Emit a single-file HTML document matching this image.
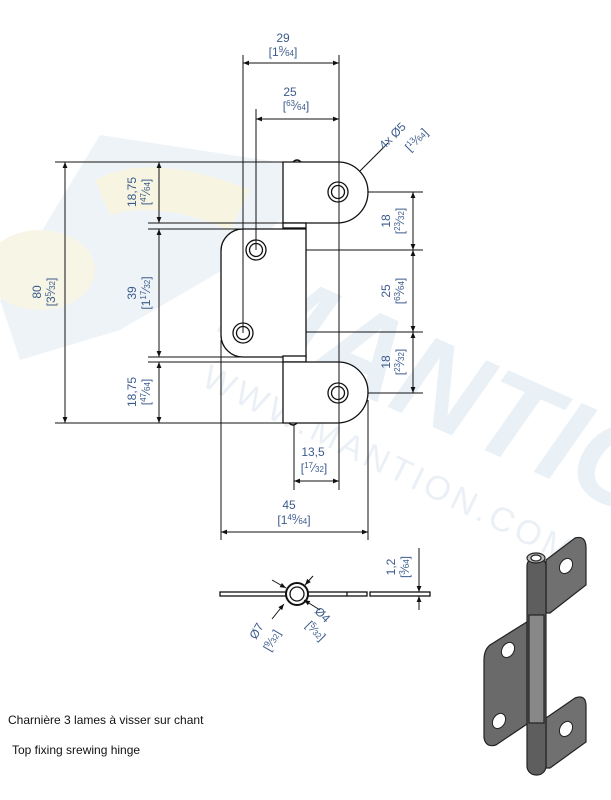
<!DOCTYPE html>
<html><head><meta charset="utf-8"><style>
html,body{margin:0;padding:0;background:#fff}
svg{display:block}
.d{fill:#3b5b8c;font-family:"Liberation Sans",sans-serif;font-size:12px}
.s{font-size:8px}
.l{stroke:#111;stroke-width:1;fill:none}
.o{stroke:#111;stroke-width:1.3;fill:none}
</style></head><body>
<svg width="611" height="800" viewBox="0 0 611 800" xmlns="http://www.w3.org/2000/svg">
<defs>
<marker id="a" viewBox="0 0 10 10" refX="10" refY="5" markerWidth="8" markerHeight="6" orient="auto-start-reverse" markerUnits="userSpaceOnUse"><path d="M0,1 L10,5 L0,9z" fill="#111"/></marker>
</defs>
<!-- watermark -->
<polygon points="0,300 100,135 330,170 240,260 120,330 20,360" fill="#eef3f8"/>
<path d="M95,180 Q150,150 250,190 L230,230 Q160,200 110,215z" fill="#f7f5e2"/>
<ellipse cx="40" cy="270" rx="55" ry="40" fill="#f6f5e6"/>
<text x="0" y="0" transform="translate(215,330) rotate(24)" font-family="Liberation Sans,sans-serif" font-weight="bold" font-style="italic" font-size="120" fill="#e9f0f6">MANTION</text>
<text x="0" y="0" transform="translate(200,385) rotate(26)" font-family="Liberation Sans,sans-serif" font-size="34" fill="#eaf0f5" letter-spacing="4">WWW.MANTION.COM</text>

<!-- extension lines -->
<g class="l">
<line x1="243" y1="55" x2="243" y2="333"/>
<line x1="339" y1="55" x2="339" y2="490"/>
<line x1="256" y1="109" x2="256" y2="250"/>
<line x1="55" y1="162" x2="283" y2="162"/>
<line x1="148" y1="223" x2="283" y2="223"/>
<line x1="148" y1="229" x2="240" y2="229"/>
<line x1="148" y1="357" x2="240" y2="357"/>
<line x1="148" y1="362" x2="283" y2="362"/>
<line x1="55" y1="423" x2="283" y2="423"/>
<line x1="345" y1="192" x2="423" y2="192"/>
<line x1="262" y1="250" x2="423" y2="250"/>
<line x1="249" y1="332" x2="423" y2="332"/>
<line x1="345" y1="393" x2="423" y2="393"/>
<line x1="221" y1="340" x2="221" y2="540"/>
<line x1="368" y1="400" x2="368" y2="540"/>
<line x1="294" y1="425" x2="294" y2="490"/>
</g>
<!-- dim lines -->
<g class="l" marker-start="url(#a)" marker-end="url(#a)">
<line x1="243" y1="63" x2="339" y2="63"/>
<line x1="256" y1="119" x2="339" y2="119"/>
<line x1="65" y1="162" x2="65" y2="423"/>
<line x1="159" y1="162" x2="159" y2="223"/>
<line x1="159" y1="229" x2="159" y2="357"/>
<line x1="159" y1="362" x2="159" y2="423"/>
<line x1="413" y1="192" x2="413" y2="250"/>
<line x1="413" y1="250" x2="413" y2="332"/>
<line x1="413" y1="332" x2="413" y2="393"/>
<line x1="294" y1="481" x2="339" y2="481"/>
<line x1="221" y1="532" x2="368" y2="532"/>
</g>
<line class="l" x1="388" y1="143" x2="346" y2="185" marker-end="url(#a)"/>
<line class="l" x1="320" y1="208" x2="331" y2="198" marker-end="url(#a)"/>

<!-- hinge front view -->
<g class="o" fill="#fff">
<path d="M283,162 H338 A30,30 0 0 1 368,192 A31,31 0 0 1 338,223 H283 Z" fill="#fff"/>
<path d="M293,162 q4,-4 8,0" />
<rect x="283" y="223" width="23" height="5" fill="#fff"/>
<path d="M306,229 H243 A22,22 0 0 0 221,251 V335 A22,22 0 0 0 243,357 H306 Z" fill="#fff"/>
<rect x="283" y="356" width="23" height="6" fill="#fff"/>
<path d="M283,362 H338 A30,30 0 0 1 368,392 A31,31 0 0 1 338,423 H283 Z" fill="#fff"/>
<path d="M289,423 q4,4 8,0"/>
</g>
<g class="o">
<circle cx="338" cy="192" r="10"/><circle cx="338" cy="192" r="6.5"/>
<circle cx="256" cy="250" r="10"/><circle cx="256" cy="250" r="6.5"/>
<circle cx="243" cy="333" r="10"/><circle cx="243" cy="333" r="6.5"/>
<circle cx="338" cy="393" r="10"/><circle cx="338" cy="393" r="6.5"/>
</g>
<g class="l">
<line x1="339" y1="63" x2="339" y2="490"/><line x1="243" y1="63" x2="243" y2="333"/><line x1="256" y1="119" x2="256" y2="250"/>
</g>

<!-- labels -->
<text class="d" x="283" y="42" text-anchor="middle">29</text>
<text class="d" x="283" y="56" text-anchor="middle">[1<tspan class="s" dy="-4">9</tspan><tspan dy="4">⁄</tspan><tspan class="s">64</tspan>]</text>
<text class="d" x="290" y="96" text-anchor="middle">25</text>
<text class="d" x="296" y="110" text-anchor="middle">[<tspan class="s" dy="-4">63</tspan><tspan dy="4">⁄</tspan><tspan class="s">64</tspan>]</text>
<text class="d" transform="translate(384,150) rotate(-45)">4x Ø5</text>
<text class="d" transform="translate(410,152) rotate(-45)">[<tspan class="s" dy="-4">13</tspan><tspan dy="4">⁄</tspan><tspan class="s">64</tspan>]</text>

<text class="d" text-anchor="middle" transform="translate(41,292) rotate(-90)">80</text>
<text class="d" text-anchor="middle" transform="translate(55,292) rotate(-90)">[3<tspan class="s" dy="-4">5</tspan><tspan dy="4">⁄</tspan><tspan class="s">32</tspan>]</text>
<text class="d" text-anchor="middle" transform="translate(136,192) rotate(-90)">18,75</text>
<text class="d" text-anchor="middle" transform="translate(150,192) rotate(-90)">[<tspan class="s" dy="-4">47</tspan><tspan dy="4">⁄</tspan><tspan class="s">64</tspan>]</text>
<text class="d" text-anchor="middle" transform="translate(136,293) rotate(-90)">39</text>
<text class="d" text-anchor="middle" transform="translate(150,293) rotate(-90)">[1<tspan class="s" dy="-4">17</tspan><tspan dy="4">⁄</tspan><tspan class="s">32</tspan>]</text>
<text class="d" text-anchor="middle" transform="translate(136,392) rotate(-90)">18,75</text>
<text class="d" text-anchor="middle" transform="translate(150,392) rotate(-90)">[<tspan class="s" dy="-4">47</tspan><tspan dy="4">⁄</tspan><tspan class="s">64</tspan>]</text>

<text class="d" text-anchor="middle" transform="translate(390,221) rotate(-90)">18</text>
<text class="d" text-anchor="middle" transform="translate(404,221) rotate(-90)">[<tspan class="s" dy="-4">23</tspan><tspan dy="4">⁄</tspan><tspan class="s">32</tspan>]</text>
<text class="d" text-anchor="middle" transform="translate(390,291) rotate(-90)">25</text>
<text class="d" text-anchor="middle" transform="translate(404,291) rotate(-90)">[<tspan class="s" dy="-4">63</tspan><tspan dy="4">⁄</tspan><tspan class="s">64</tspan>]</text>
<text class="d" text-anchor="middle" transform="translate(390,362) rotate(-90)">18</text>
<text class="d" text-anchor="middle" transform="translate(404,362) rotate(-90)">[<tspan class="s" dy="-4">23</tspan><tspan dy="4">⁄</tspan><tspan class="s">32</tspan>]</text>

<text class="d" x="313" y="456" text-anchor="middle">13,5</text>
<text class="d" x="314" y="472" text-anchor="middle">[<tspan class="s" dy="-4">17</tspan><tspan dy="4">⁄</tspan><tspan class="s">32</tspan>]</text>
<text class="d" x="289" y="509" text-anchor="middle">45</text>
<text class="d" x="294" y="524" text-anchor="middle">[1<tspan class="s" dy="-4">49</tspan><tspan dy="4">⁄</tspan><tspan class="s">64</tspan>]</text>

<!-- section view -->
<g class="o">
<rect x="220" y="592" width="147" height="4" fill="#fff"/>
<rect x="370" y="592" width="60" height="4" fill="#fff"/>
<line x1="347" y1="592" x2="347" y2="596"/>
<circle cx="297" cy="594" r="11" fill="#fff" stroke-width="2"/>
<circle cx="297" cy="594" r="7" fill="#fff"/>
</g>
<g class="l" marker-end="url(#a)">
<line x1="272" y1="580" x2="286" y2="588"/>
<line x1="313" y1="576" x2="305" y2="585"/>
<line x1="272" y1="619" x2="284" y2="604"/>
<line x1="320" y1="610" x2="304" y2="600"/>
<line x1="419" y1="548" x2="419" y2="592"/>
<line x1="419" y1="610" x2="419" y2="596"/>
</g>
<text class="d" text-anchor="middle" transform="translate(395,567) rotate(-90)">1,2</text>
<text class="d" text-anchor="middle" transform="translate(409,567) rotate(-90)">[<tspan class="s" dy="-4">3</tspan><tspan dy="4">⁄</tspan><tspan class="s">64</tspan>]</text>
<text class="d" transform="translate(256,640) rotate(-60)">Ø7</text>
<text class="d" transform="translate(270,652) rotate(-60)">[<tspan class="s" dy="-4">9</tspan><tspan dy="4">⁄</tspan><tspan class="s">32</tspan>]</text>
<text class="d" transform="translate(314,612) rotate(45)">Ø4</text>
<text class="d" transform="translate(305,626) rotate(45)">[<tspan class="s" dy="-4">5</tspan><tspan dy="4">⁄</tspan><tspan class="s">32</tspan>]</text>

<!-- 3D hinge -->
<g stroke="#222" stroke-width="1.2">
<path d="M546,560 L575,538 Q586,535 586,548 L586,585 L550,613 L546,613 Z" fill="#707070"/>
<path d="M530,620 L490,645 Q484,650 484,660 L484,738 Q486,748 496,745 L530,722 Z" fill="#6a6a6a"/>
<path d="M546,718 L575,698 Q586,694 586,706 L586,742 L550,768 L546,768 Z" fill="#707070"/>
<rect x="527" y="557" width="19" height="218" rx="9" fill="#5e5e5e"/>
<rect x="529" y="615" width="15" height="108" fill="#888"/>
<ellipse cx="536" cy="558" rx="9" ry="5" fill="#bbb"/>
<ellipse cx="536" cy="558" rx="5" ry="3" fill="#fff"/>
</g>
<g fill="#fff" stroke="#222">
<ellipse cx="566" cy="566" rx="6" ry="8" transform="rotate(30 566 566)"/>
<ellipse cx="508" cy="650" rx="6" ry="8" transform="rotate(30 508 650)"/>
<ellipse cx="499" cy="721" rx="6" ry="8" transform="rotate(30 499 721)"/>
<ellipse cx="566" cy="729" rx="6" ry="8" transform="rotate(30 566 729)"/>
</g>

<text x="8" y="724" font-family="Liberation Sans,sans-serif" font-size="12" fill="#111">Charnière 3 lames à visser sur chant</text>
<text x="12" y="754" font-family="Liberation Sans,sans-serif" font-size="12" fill="#111">Top fixing srewing hinge</text>
</svg>
</body></html>
